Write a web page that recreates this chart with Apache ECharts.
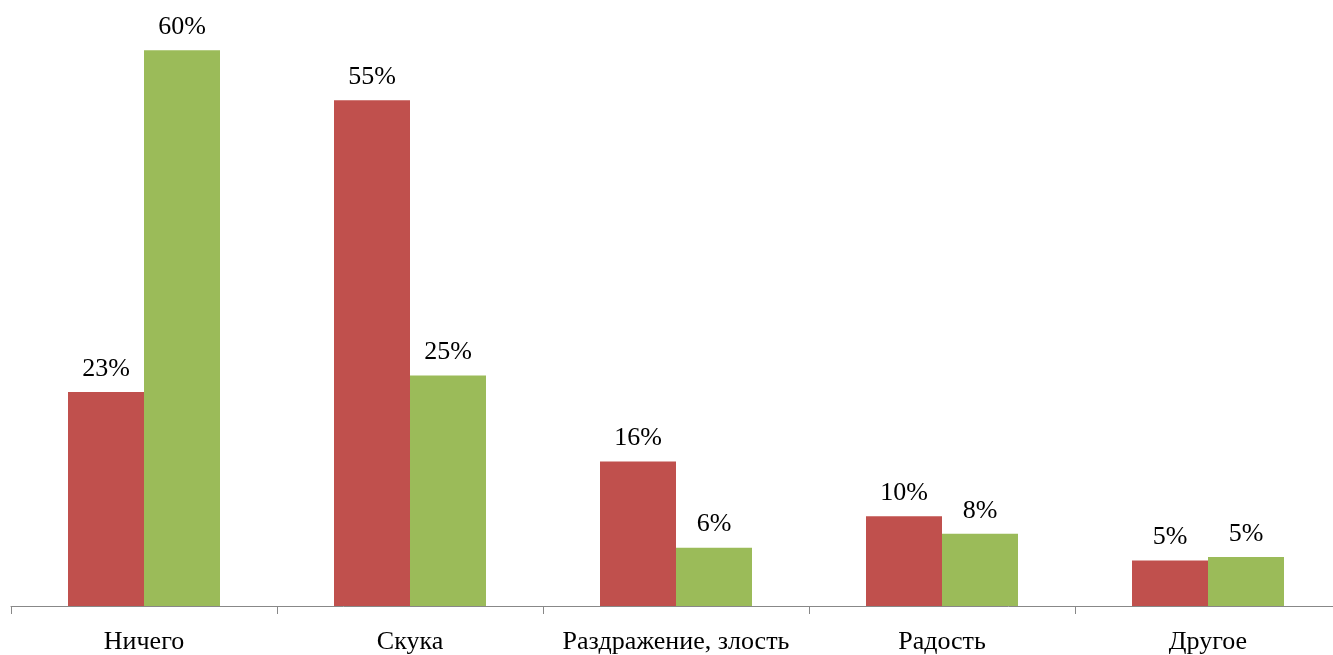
<!DOCTYPE html>
<html>
<head>
<meta charset="utf-8">
<script src="https://cdn.jsdelivr.net/npm/echarts@6/dist/echarts.min.js"></script>
<style>
  html, body { margin: 0; padding: 0; background: #fff; overflow: hidden; }
  /* ось в оригинале уходит чуть за правый край картинки */
  #chart { width: 1341px; height: 655px; }
</style>
</head>
<body>
<div id="chart"></div>
<script>
const categories = ['Ничего', 'Скука', 'Раздражение, злость', 'Радость', 'Другое'];
const redValues = [23.1, 54.6, 15.6, 9.7, 4.9];
const greenValues = [60.0, 24.9, 6.3, 7.8, 5.3];

const chart = echarts.init(document.getElementById('chart'));

const serif = '"Liberation Serif", "DejaVu Serif", serif';

// общий стиль подписей над столбцами
const barLabel = {
  show: true,
  position: 'top',
  distance: 10,
  fontFamily: serif,
  fontSize: 26,
  color: '#000',
  formatter: p => Math.round(p.value) + '%'
};

chart.setOption({
  animation: false,
  grid: {
    left: 11,
    right: 0,
    top: 4,
    bottom: 49,
    containLabel: false
  },
  xAxis: {
    type: 'category',
    data: categories,
    axisLine: { lineStyle: { color: '#888', width: 1 } },
    axisTick: { show: true, length: 8, alignWithLabel: false, lineStyle: { color: '#888' } },
    axisLabel: {
      margin: 23,
      fontFamily: serif,
      fontSize: 26,
      color: '#000',
      interval: 0
    }
  },
  yAxis: {
    type: 'value',
    min: 0,
    max: 65,
    show: false,
    splitLine: { show: false }
  },
  series: [
    {
      name: 'red',
      type: 'bar',
      data: redValues,
      barWidth: 76,
      barGap: '0%',
      itemStyle: { color: '#C0504D' },
      label: barLabel
    },
    {
      name: 'green',
      type: 'bar',
      data: greenValues,
      barWidth: 76,
      barGap: '0%',
      itemStyle: { color: '#9BBB59' },
      label: barLabel
    }
  ]
});
</script>
</body>
</html>
